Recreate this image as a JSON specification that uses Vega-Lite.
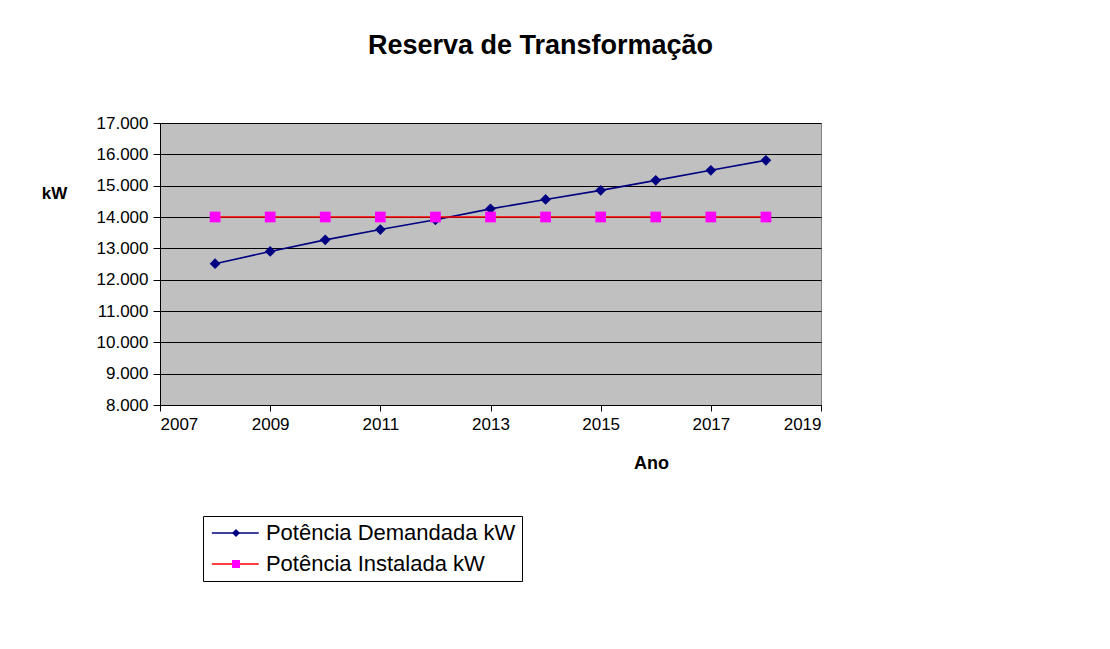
{
  "$schema": "https://vega.github.io/schema/vega-lite/v6.json",
  "width": 661,
  "height": 282,
  "autosize": "none",
  "padding": {"left": 160, "top": 123, "right": 289, "bottom": 244},
  "background": "white",
  "config": {
    "font": "Liberation Sans",
    "view": {"fill": "#C0C0C0", "stroke": "#808080", "strokeWidth": 1}
  },
  "title": {
    "text": "Reserva de Transformação",
    "font": "Liberation Sans",
    "fontSize": 27,
    "fontWeight": "bold",
    "color": "black",
    "anchor": "middle",
    "frame": "group",
    "baseline": "alphabetic",
    "offset": 33,
    "dx": 50
  },
  "data": {
    "values": [
      {"ano": 2008, "serie": "Potência Demandada kW", "cod": "D", "kw": 12510},
      {"ano": 2009, "serie": "Potência Demandada kW", "cod": "D", "kw": 12900},
      {"ano": 2010, "serie": "Potência Demandada kW", "cod": "D", "kw": 13270},
      {"ano": 2011, "serie": "Potência Demandada kW", "cod": "D", "kw": 13600},
      {"ano": 2012, "serie": "Potência Demandada kW", "cod": "D", "kw": 13910},
      {"ano": 2013, "serie": "Potência Demandada kW", "cod": "D", "kw": 14260},
      {"ano": 2014, "serie": "Potência Demandada kW", "cod": "D", "kw": 14560},
      {"ano": 2015, "serie": "Potência Demandada kW", "cod": "D", "kw": 14850},
      {"ano": 2016, "serie": "Potência Demandada kW", "cod": "D", "kw": 15170},
      {"ano": 2017, "serie": "Potência Demandada kW", "cod": "D", "kw": 15490},
      {"ano": 2018, "serie": "Potência Demandada kW", "cod": "D", "kw": 15810},
      {"ano": 2008, "serie": "Potência Instalada kW", "cod": "I", "kw": 14000},
      {"ano": 2009, "serie": "Potência Instalada kW", "cod": "I", "kw": 14000},
      {"ano": 2010, "serie": "Potência Instalada kW", "cod": "I", "kw": 14000},
      {"ano": 2011, "serie": "Potência Instalada kW", "cod": "I", "kw": 14000},
      {"ano": 2012, "serie": "Potência Instalada kW", "cod": "I", "kw": 14000},
      {"ano": 2013, "serie": "Potência Instalada kW", "cod": "I", "kw": 14000},
      {"ano": 2014, "serie": "Potência Instalada kW", "cod": "I", "kw": 14000},
      {"ano": 2015, "serie": "Potência Instalada kW", "cod": "I", "kw": 14000},
      {"ano": 2016, "serie": "Potência Instalada kW", "cod": "I", "kw": 14000},
      {"ano": 2017, "serie": "Potência Instalada kW", "cod": "I", "kw": 14000},
      {"ano": 2018, "serie": "Potência Instalada kW", "cod": "I", "kw": 14000}
    ]
  },
  "encoding": {
    "x": {
      "field": "ano",
      "type": "quantitative",
      "scale": {"domain": [2007, 2019], "nice": false, "zero": false},
      "axis": {
        "title": "Ano",
        "values": [2007, 2009, 2011, 2013, 2015, 2017, 2019],
        "format": "d",
        "grid": false,
        "domainColor": "black",
        "tickColor": "black",
        "tickSize": 6,
        "labelFont": "Liberation Sans",
        "labelFontSize": 17,
        "labelColor": "black",
        "labelPadding": 5,
        "titleFont": "Liberation Sans",
        "titleFontSize": 18,
        "titleFontWeight": "bold",
        "titleColor": "black",
        "titleX": 491,
        "titleY": 58,
        "titleAlign": "center",
        "titleBaseline": "middle"
      }
    },
    "y": {
      "field": "kw",
      "type": "quantitative",
      "scale": {"domain": [8000, 17000], "nice": false, "zero": false},
      "axis": {
        "title": "kW",
        "values": [8000, 9000, 10000, 11000, 12000, 13000, 14000, 15000, 16000, 17000],
        "labelExpr": "replace(format(datum.value, ','), ',', '.')",
        "grid": true,
        "gridColor": "black",
        "gridWidth": 1,
        "domainColor": "black",
        "tickColor": "black",
        "tickSize": 7,
        "labelFont": "Liberation Sans",
        "labelFontSize": 17,
        "labelColor": "black",
        "labelPadding": 5,
        "titleFont": "Liberation Sans",
        "titleFontSize": 17,
        "titleFontWeight": "bold",
        "titleColor": "black",
        "titleAngle": 0,
        "titleX": -106,
        "titleY": 70,
        "titleAlign": "center",
        "titleBaseline": "middle"
      }
    }
  },
  "layer": [
    {
      "mark": {"type": "line", "strokeWidth": 1.6},
      "encoding": {
        "stroke": {
          "field": "serie",
          "type": "nominal",
          "scale": {"domain": ["Potência Demandada kW", "Potência Instalada kW"], "range": ["#000080", "#FF0000"]},
          "legend": {
            "title": null,
            "orient": "none",
            "legendX": 43,
            "legendY": 393,
            "direction": "vertical",
            "strokeColor": "black",
            "fillColor": "white",
            "padding": 6,
            "symbolType": "M-5,0H5",
            "symbolSize": 88,
            "symbolOffset": 15.3,
            "symbolStrokeWidth": 1.6,
            "labelFont": "Liberation Sans",
            "labelFontSize": 22,
            "labelColor": "black",
            "labelOffset": 19.6,
            "labelLimit": 400,
            "rowPadding": 9
          }
        }
      }
    },
    {
      "mark": {"type": "point", "filled": true, "opacity": 1, "strokeWidth": 0, "size": 115},
      "encoding": {
        "fill": {
          "field": "cod",
          "type": "nominal",
          "scale": {"domain": ["D", "I"], "range": ["#000080", "#FF00FF"]},
          "legend": {
            "title": null,
            "orient": "none",
            "legendX": 59,
            "legendY": 393,
            "direction": "vertical",
            "padding": 6,
            "symbolSize": 64,
            "symbolStrokeWidth": 0,
            "labelFont": "Liberation Sans",
            "labelFontSize": 22,
            "labelExpr": "''",
            "labelOpacity": 0,
            "rowPadding": 9
          }
        },
        "shape": {
          "field": "cod",
          "type": "nominal",
          "scale": {"domain": ["D", "I"], "range": ["diamond", "square"]}
        }
      }
    }
  ]
}
